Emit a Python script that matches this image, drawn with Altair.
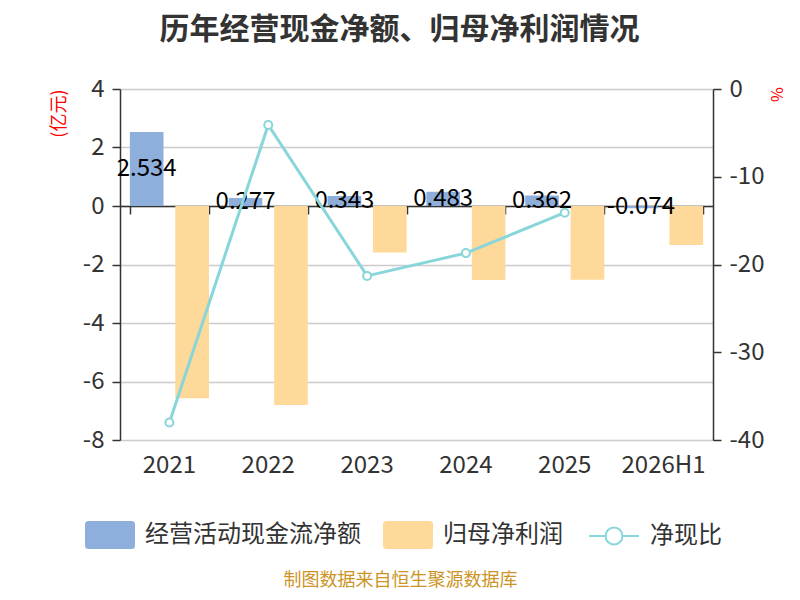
import altair as alt
import pandas as pd

# ---- data ----
categories = ["2021", "2022", "2023", "2024", "2025", "2026H1"]
cash_flow = [2.534, 0.277, 0.343, 0.483, 0.362, -0.074]      # 经营活动现金流净额 (亿元)
net_profit = [-6.57, -6.80, -1.59, -2.53, -2.52, -1.33]       # 归母净利润 (亿元)
ratio = [-38.0, -4.1, -21.3, -18.7, -14.1, None]              # 净现比 (%)
bar_series = ["经营活动现金流净额", "归母净利润"]
line_series = ["净现比"]

left_ticks = [-8, -6, -4, -2, 0, 2, 4]
right_ticks = [-40, -30, -20, -10, 0]

BLUE = "#8eaedb"
YELLOW = "#ffd999"
TEAL = "#88d6da"
FONT = "Noto Sans CJK SC"
TXT = "#333333"

bar_df = pd.DataFrame({
    "year": categories * 2,
    "series": [bar_series[0]] * len(categories) + [bar_series[1]] * len(categories),
    "value": cash_flow + net_profit,
})
label_df = pd.DataFrame({
    "year": categories,
    "series": [bar_series[0]] * len(categories),
    "value": cash_flow,
    "label": [f"{v:.3f}" for v in cash_flow],
})
ratio_df = pd.DataFrame({
    "year": categories,
    "ratio": ratio,
    "series": line_series * len(categories),
})

x_scale = alt.Scale(domain=categories, paddingInner=0.2, paddingOuter=0.1)
off_scale = alt.Scale(domain=bar_series, paddingInner=0.26, paddingOuter=0)
left_scale = alt.Scale(domain=[-8, 4], nice=False, zero=False)
right_scale = alt.Scale(domain=[-40, 0], nice=False, zero=False)
color_scale = alt.Scale(domain=bar_series, range=[BLUE, YELLOW])
stroke_scale = alt.Scale(domain=line_series, range=[TEAL])

rect_path = ("M-0.86,-0.56 L0.86,-0.56 Q1,-0.56 1,-0.42 L1,0.42 Q1,0.56 0.86,0.56 "
             "L-0.86,0.56 Q-1,0.56 -1,0.42 L-1,-0.42 Q-1,-0.56 -0.86,-0.56 Z")
line_path = ("M-1,0 L-0.34,0 M0.34,0 L1,0 M-0.34,0 A0.34,0.34 0 1,0 0.34,0 "
             "A0.34,0.34 0 1,0 -0.34,0")

bar_legend = alt.Legend(
    title=None, orient="none", legendX=-35, legendY=421, direction="horizontal",
    padding=0, symbolType=rect_path, symbolSize=2500, symbolStrokeWidth=0,
    symbolOpacity=1, labelFont=FONT, labelFontSize=24, labelColor=TXT,
    labelOffset=10, columnPadding=22, labelLimit=400,
)
line_legend = alt.Legend(
    title=None, orient="none", legendX=468, legendY=421, direction="horizontal",
    padding=0, symbolType=line_path, symbolSize=2500, symbolStrokeWidth=2,
    symbolStrokeColor=TEAL, symbolFillColor="#ffffff", symbolOpacity=1,
    labelFont=FONT, labelFontSize=24, labelColor=TXT, labelOffset=10, labelLimit=400,
)

plain_label = "toString(datum.value)"

bars = alt.Chart(bar_df).mark_bar().encode(
    x=alt.X("year:N", scale=x_scale, sort=categories,
            axis=alt.Axis(orient="bottom", domain=False, ticks=False, labelAngle=0,
                          labelFont=FONT, labelFontSize=24, labelColor=TXT,
                          labelPadding=13, grid=False,
                          title="制图数据来自恒生聚源数据库", titleFont=FONT,
                          titleFontSize=18, titleFontWeight="normal", titleColor="#cc9426",
                          titleX=280, titleY=140, titleBaseline="middle", titleAlign="center")),
    xOffset=alt.XOffset("series:N", scale=off_scale, sort=bar_series),
    y=alt.Y("value:Q", scale=left_scale,
            axis=alt.Axis(orient="left", values=left_ticks, grid=True, gridColor="#cccccc",
                          gridWidth=1.5, domain=True, domainColor=TXT, domainWidth=1.5,
                          ticks=True, tickColor=TXT, tickSize=8, tickWidth=1.5,
                          labelFont=FONT, labelFontSize=24, labelColor=TXT, labelPadding=8,
                          labelExpr=plain_label,
                          title="(亿元)", titleColor="#ff0000", titleFont=FONT,
                          titleFontSize=18, titleFontWeight="normal", titleAnchor="end",
                          titleAngle=270, titlePadding=14)),
    color=alt.Color("series:N", scale=color_scale, sort=bar_series, legend=bar_legend),
)

labels = alt.Chart(label_df).transform_calculate(
    mid="datum.value / 2"
).mark_text(font=FONT, fontSize=24, color="#000000", baseline="middle", align="center").encode(
    x=alt.X("year:N", scale=x_scale, sort=categories, axis=None),
    xOffset=alt.XOffset("series:N", scale=off_scale, sort=bar_series),
    y=alt.Y("mid:Q", scale=left_scale, axis=None),
    text="label:N",
)

line = alt.Chart(ratio_df).transform_filter("isValid(datum.ratio)").mark_line(
    strokeWidth=3
).encode(
    x=alt.X("year:N", scale=x_scale, sort=categories,
            axis=alt.Axis(orient="bottom", offset=-234, domain=True, domainColor=TXT,
                          domainWidth=1.5, ticks=True, tickColor=TXT, tickSize=8,
                          tickWidth=1.5, tickBand="extent", labels=False, title=None,
                          grid=False)),
    y=alt.Y("ratio:Q", scale=right_scale,
            axis=alt.Axis(orient="right", values=right_ticks, grid=False, domain=True,
                          domainColor=TXT, domainWidth=1.5, ticks=True, tickColor=TXT,
                          tickSize=8, tickWidth=1.5, labelFont=FONT, labelFontSize=24,
                          labelColor=TXT, labelPadding=8, labelExpr=plain_label,
                          title="%", titleColor="#ff0000",
                          titleFont=FONT, titleFontSize=16, titleFontWeight="normal",
                          titleAngle=90, titleX=62, titleY=5, titleBaseline="middle",
                          titleAlign="center")),
    stroke=alt.Stroke("series:N", scale=stroke_scale, legend=line_legend),
)

points = alt.Chart(ratio_df).transform_filter("isValid(datum.ratio)").mark_point(
    shape="circle", filled=True, fill="#ffffff", stroke=TEAL, strokeWidth=2,
    size=64, opacity=1
).encode(
    x=alt.X("year:N", scale=x_scale, sort=categories, axis=None),
    y=alt.Y("ratio:Q", scale=right_scale, axis=None),
)

chart = alt.layer(bars, labels, line, points).resolve_scale(
    y="independent"
).resolve_axis(
    x="independent", y="independent"
).properties(
    width=593,
    height=351,
    padding={"left": 112, "top": 81, "right": 79, "bottom": 152},
    autosize=alt.AutoSizeParams(type="none"),
    title=alt.TitleParams(
        text="历年经营现金净额、归母净利润情况",
        font=FONT, fontSize=30, fontWeight="bold", color=TXT,
        anchor="middle", frame="group", dx=-17, offset=32,
    ),
).configure_view(stroke=None).configure(background="#ffffff")

chart.save("out.html", embed_options={"renderer": "svg", "actions": False})
